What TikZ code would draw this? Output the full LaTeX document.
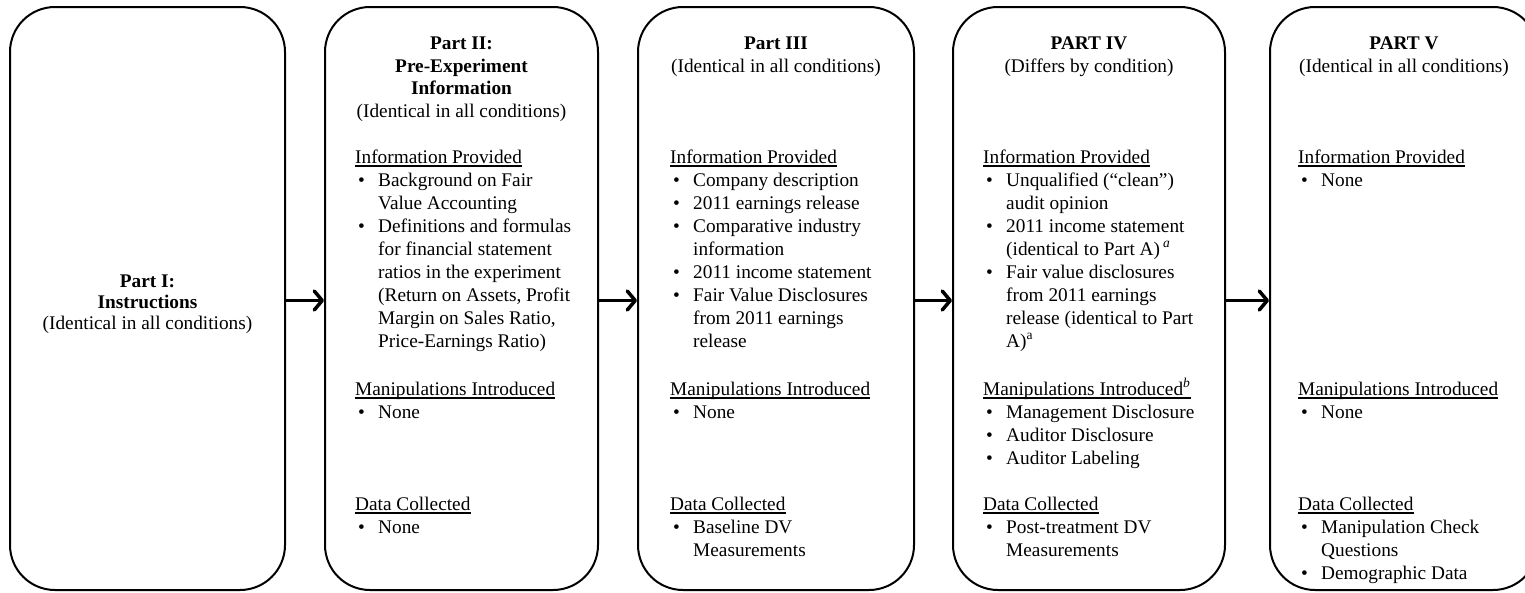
\documentclass[tikz,border=0pt]{standalone}
\usepackage{fontspec}
\setmainfont{Liberation Serif}
\usetikzlibrary{arrows.meta}
\newcommand{\fs}{\fontsize{19.3}{23}\selectfont}
\tikzset{
  box/.style={draw, line width=2pt, rounded corners=45pt, minimum width=#1, minimum height=583pt, inner sep=0pt},
  ttl/.style={inner sep=0pt, anchor=base, align=center, font=\fontsize{19.3}{22.4}\selectfont},
  hdr/.style={inner sep=0pt, anchor=base west, font=\fs},
  itm/.style={inner sep=0pt, anchor=base west, align=left, font=\fs},
  ul/.style={line width=2pt},
  arr/.style={line width=3.5pt, line cap=round, -{Straight Barb[length=8pt,width=19pt,line cap=round,line join=round]}}
}
% header: name, x, baseline y, text
\newcommand{\hd}[4]{%
  \node[hdr] (#1) at (#2,#3) {#4};
  \draw[ul] ([yshift=-2.8pt]#1.base west) -- ([yshift=-2.8pt]#1.base east);}
% bullet item: name, bullet x, first baseline y, number of lines, text
\newcommand{\bi}[5]{%
  \node[hdr] (#1b) at (#2,#3) {•};
  \node[itm] (#1) at (#2+20,#3+23*#4-23) {#5};}
\begin{document}
\begin{tikzpicture}[x=1pt,y=-1pt]
\useasboundingbox (0,0) rectangle (1525,592);
\clip (0,0) rectangle (1525,592);
% boxes
\node[box=275pt] (b1) at (147.5,298.5) {};
\node[box=273pt] (b2) at (461.5,298.5) {};
\node[box=276pt] (b3) at (776,298.5) {};
\node[box=272pt] (b4) at (1089,298.5) {};
\node[box=268pt] (b5) at (1404,298.5) {};
% arrows
\draw[arr] ([yshift=-2pt]b1.east) -- ([yshift=-2pt]b2.west);
\draw[arr] ([yshift=-2pt]b2.east) -- ([yshift=-2pt]b3.west);
\draw[arr] ([yshift=-2pt]b3.east) -- ([yshift=-2pt]b4.west);
\draw[arr] ([yshift=-2pt]b4.east) -- ([yshift=-2pt]b5.west);
% Part I
\node[ttl, font=\fontsize{19.3}{21}\selectfont] (t1) at (147.5,329) {\textbf{Part I:}\\\textbf{Instructions}\\(Identical in all conditions)};
% Part II
\node[ttl] (t2) at (461.5,117) {\textbf{Part II:}\\\textbf{Pre-Experiment}\\\textbf{Information}\\(Identical in all conditions)};
\hd{h21}{355}{163}{Information Provided}
\bi{i21}{358}{186}{2}{Background on Fair\\Value Accounting}
\bi{i22}{358}{232}{6}{Definitions and formulas\\for financial statement\\ratios in the experiment\\(Return on Assets, Profit\\Margin on Sales Ratio,\\Price-Earnings Ratio)}
\hd{h22}{355}{395}{Manipulations Introduced}
\bi{i23}{358}{418}{1}{None}
\hd{h23}{355}{510}{Data Collected}
\bi{i24}{358}{533}{1}{None}
% Part III
\node[ttl] (t3) at (776,72) {\textbf{Part III}\\(Identical in all conditions)};
\hd{h31}{670}{163}{Information Provided}
\bi{i31}{673}{186}{1}{Company description}
\bi{i32}{673}{209}{1}{2011 earnings release}
\bi{i33}{673}{232}{2}{Comparative industry\\information}
\bi{i34}{673}{278}{1}{2011 income statement}
\bi{i35}{673}{301}{3}{Fair Value Disclosures\\from 2011 earnings\\release}
\hd{h32}{670}{395}{Manipulations Introduced}
\bi{i36}{673}{418}{1}{None}
\hd{h33}{670}{510}{Data Collected}
\bi{i37}{673}{533}{2}{Baseline DV\\Measurements}
% Part IV
\node[ttl] (t4) at (1089,72) {\textbf{PART IV}\\(Differs by condition)};
\hd{h41}{983}{163}{Information Provided}
\bi{i41}{986}{186}{2}{Unqualified (“clean”)\\audit opinion}
\bi{i42}{986}{232}{2}{2011 income statement\\(identical to Part A)\,\textsuperscript{\textit{a}}}
\bi{i43}{986}{278}{4}{Fair value disclosures\\from 2011 earnings\\release (identical to Part\\A)\textsuperscript{a}}
\hd{h42}{983}{395}{Manipulations Introduced\textsuperscript{\textit{b}}}
\bi{i44}{986}{418}{1}{Management Disclosure}
\bi{i45}{986}{441}{1}{Auditor Disclosure}
\bi{i46}{986}{464}{1}{Auditor Labeling}
\hd{h43}{983}{510}{Data Collected}
\bi{i47}{986}{533}{2}{Post-treatment DV\\Measurements}
% Part V
\node[ttl] (t5) at (1404,72) {\textbf{PART V}\\(Identical in all conditions)};
\hd{h51}{1298}{163}{Information Provided}
\bi{i51}{1301}{186}{1}{None}
\hd{h52}{1298}{395}{Manipulations Introduced}
\bi{i52}{1301}{418}{1}{None}
\hd{h53}{1298}{510}{Data Collected}
\bi{i53}{1301}{533}{2}{Manipulation Check\\Questions}
\bi{i54}{1301}{579}{1}{Demographic Data}
\end{tikzpicture}
\end{document}
